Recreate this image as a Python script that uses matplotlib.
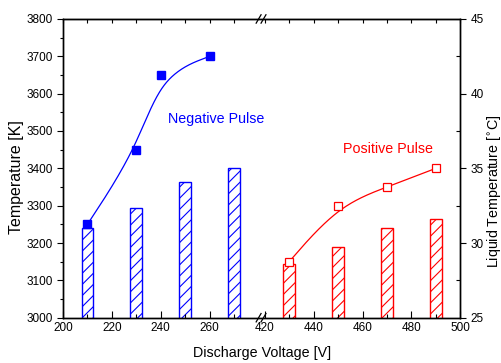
import numpy as np
import matplotlib
matplotlib.use("Agg")
import matplotlib.pyplot as plt
import matplotlib.transforms as mtransforms

plt.rcParams['font.family'] = ['Liberation Sans', 'DejaVu Sans']
plt.rcParams['hatch.linewidth'] = 0.8

# data
neg_volt = [210, 230, 240, 260]
neg_temp = [3250, 3450, 3650, 3700]
pos_volt = [430, 450, 470, 490]
pos_temp = [3150, 3300, 3350, 3400]

neg_bar_volt = [210, 230, 250, 270]
neg_liquid = [31.0, 32.35, 34.1, 35.0]
pos_bar_volt = [430, 450, 470, 490]
pos_liquid = [28.6, 29.7, 31.0, 31.6]

tick_volts = [200, 220, 240, 260, 420, 440, 460, 480, 500]
minor_volts = [210, 230, 250, 270, 430, 450, 470, 490]

SHIFT = 137.5   # how much the high-voltage part is slid left
BREAK = 281.0


def xmap(v):
    v = np.asarray(v, dtype=float)
    return np.where(v > 350, v - SHIFT, v)


def bspline3(xs, ys, n=60):
    # uniform cubic B-spline, end points tripled so the curve hits them
    px = np.r_[[xs[0]] * 2, xs, [xs[-1]] * 2].astype(float)
    py = np.r_[[ys[0]] * 2, ys, [ys[-1]] * 2].astype(float)
    t = np.linspace(0, 1, n)
    b0 = (1 - t)**3 / 6
    b1 = (3 * t**3 - 6 * t**2 + 4) / 6
    b2 = (-3 * t**3 + 3 * t**2 + 3 * t + 1) / 6
    b3 = t**3 / 6
    ox, oy = [], []
    for i in range(len(px) - 3):
        ox.append(b0 * px[i] + b1 * px[i + 1] + b2 * px[i + 2] + b3 * px[i + 3])
        oy.append(b0 * py[i] + b1 * py[i + 1] + b2 * py[i + 2] + b3 * py[i + 3])
    return np.concatenate(ox), np.concatenate(oy)


blue = '#0000ff'
red = '#ff0000'

fig = plt.figure(figsize=(5.02, 3.63), dpi=100)
ax = fig.add_axes([0.1255, 0.1248, 0.7915, 0.823])
ax2 = ax.twinx()

# bars (liquid temperature, right axis)
ax2.bar(xmap(neg_bar_volt), neg_liquid, width=4.8, bottom=0, facecolor='white',
        edgecolor=blue, hatch='///', linewidth=1.0)
ax2.bar(xmap(pos_bar_volt), pos_liquid, width=4.8, bottom=0, facecolor='white',
        edgecolor=red, hatch='///', linewidth=1.0)
ax2.set_ylim(25, 45)

# temperature points and curves (left axis)
bx, by = bspline3(list(xmap(neg_volt)), neg_temp)
ax.plot(bx, by, color=blue, lw=0.9)
ax.plot(xmap(neg_volt), neg_temp, 's', color=blue, ms=6)
rx, ry = bspline3(list(xmap(pos_volt)), pos_temp)
ax.plot(rx, ry, color=red, lw=0.9)
ax.plot(xmap(pos_volt), pos_temp, 's', color=red, mfc='white', ms=5.5, mew=0.9)

ax.set_zorder(ax2.get_zorder() + 1)
ax.patch.set_visible(False)

ax.set_xlim(200, 500 - SHIFT)
ax.set_ylim(3000, 3800)
ax.set_yticks(np.arange(3000, 3801, 100))
ax.set_yticks(np.arange(3050, 3800, 100), minor=True)
ax.set_xticks(xmap(tick_volts))
ax.set_xticklabels([str(v) for v in tick_volts])
ax.set_xticks(xmap(minor_volts), minor=True)
ax2.set_yticks([25, 30, 35, 40, 45])
ax2.set_yticks([27.5, 32.5, 37.5, 42.5], minor=True)

ax.tick_params(axis='y', which='major', direction='out', length=4, labelsize=8.5, width=0.8)
ax.tick_params(axis='y', which='minor', direction='out', length=2.5, width=0.8)
ax.tick_params(axis='x', which='major', direction='in', length=5, labelsize=8.5, width=0.8, pad=3)
ax.tick_params(axis='x', which='minor', direction='in', length=3, width=0.8)
ax2.tick_params(axis='y', which='major', direction='out', length=4, labelsize=8.5, width=0.8)
ax2.tick_params(axis='y', which='minor', direction='in', length=3, width=0.8)

top = ax.secondary_xaxis('top')
top.set_xticks(xmap(tick_volts + minor_volts))
top.tick_params(direction='in', length=3, labeltop=False, width=0.8)

for a in (ax, ax2):
    for s in a.spines.values():
        s.set_linewidth(1.0)

# break marks
trans = mtransforms.blended_transform_factory(ax.transData, ax.transAxes)
for yy in (0.0, 1.0):
    for dx in (-1.0, 1.0):
        ax.plot([BREAK + dx - 1.0, BREAK + dx + 1.0], [yy - 0.014, yy + 0.014],
                color='black', lw=0.9, transform=trans, clip_on=False, zorder=5)

ax.text(xmap(243), 3532, 'Negative Pulse', color=blue, fontsize=10.3, va='center')
ax.text(xmap(452), 3452, 'Positive Pulse', color=red, fontsize=10.3, va='center')

ax.set_xlabel('Discharge Voltage [V]', fontsize=10.3, labelpad=8.5)
ax.set_ylabel('Temperature [K]', fontsize=11.5)
ax.yaxis.set_label_coords(-0.098, 0.47)
ax2.set_ylabel('Liquid Temperature [$^{\\circ}$C]', fontsize=10.3)
ax2.yaxis.set_label_coords(1.062, 0.425)

fig.savefig('out.png', dpi=100)
